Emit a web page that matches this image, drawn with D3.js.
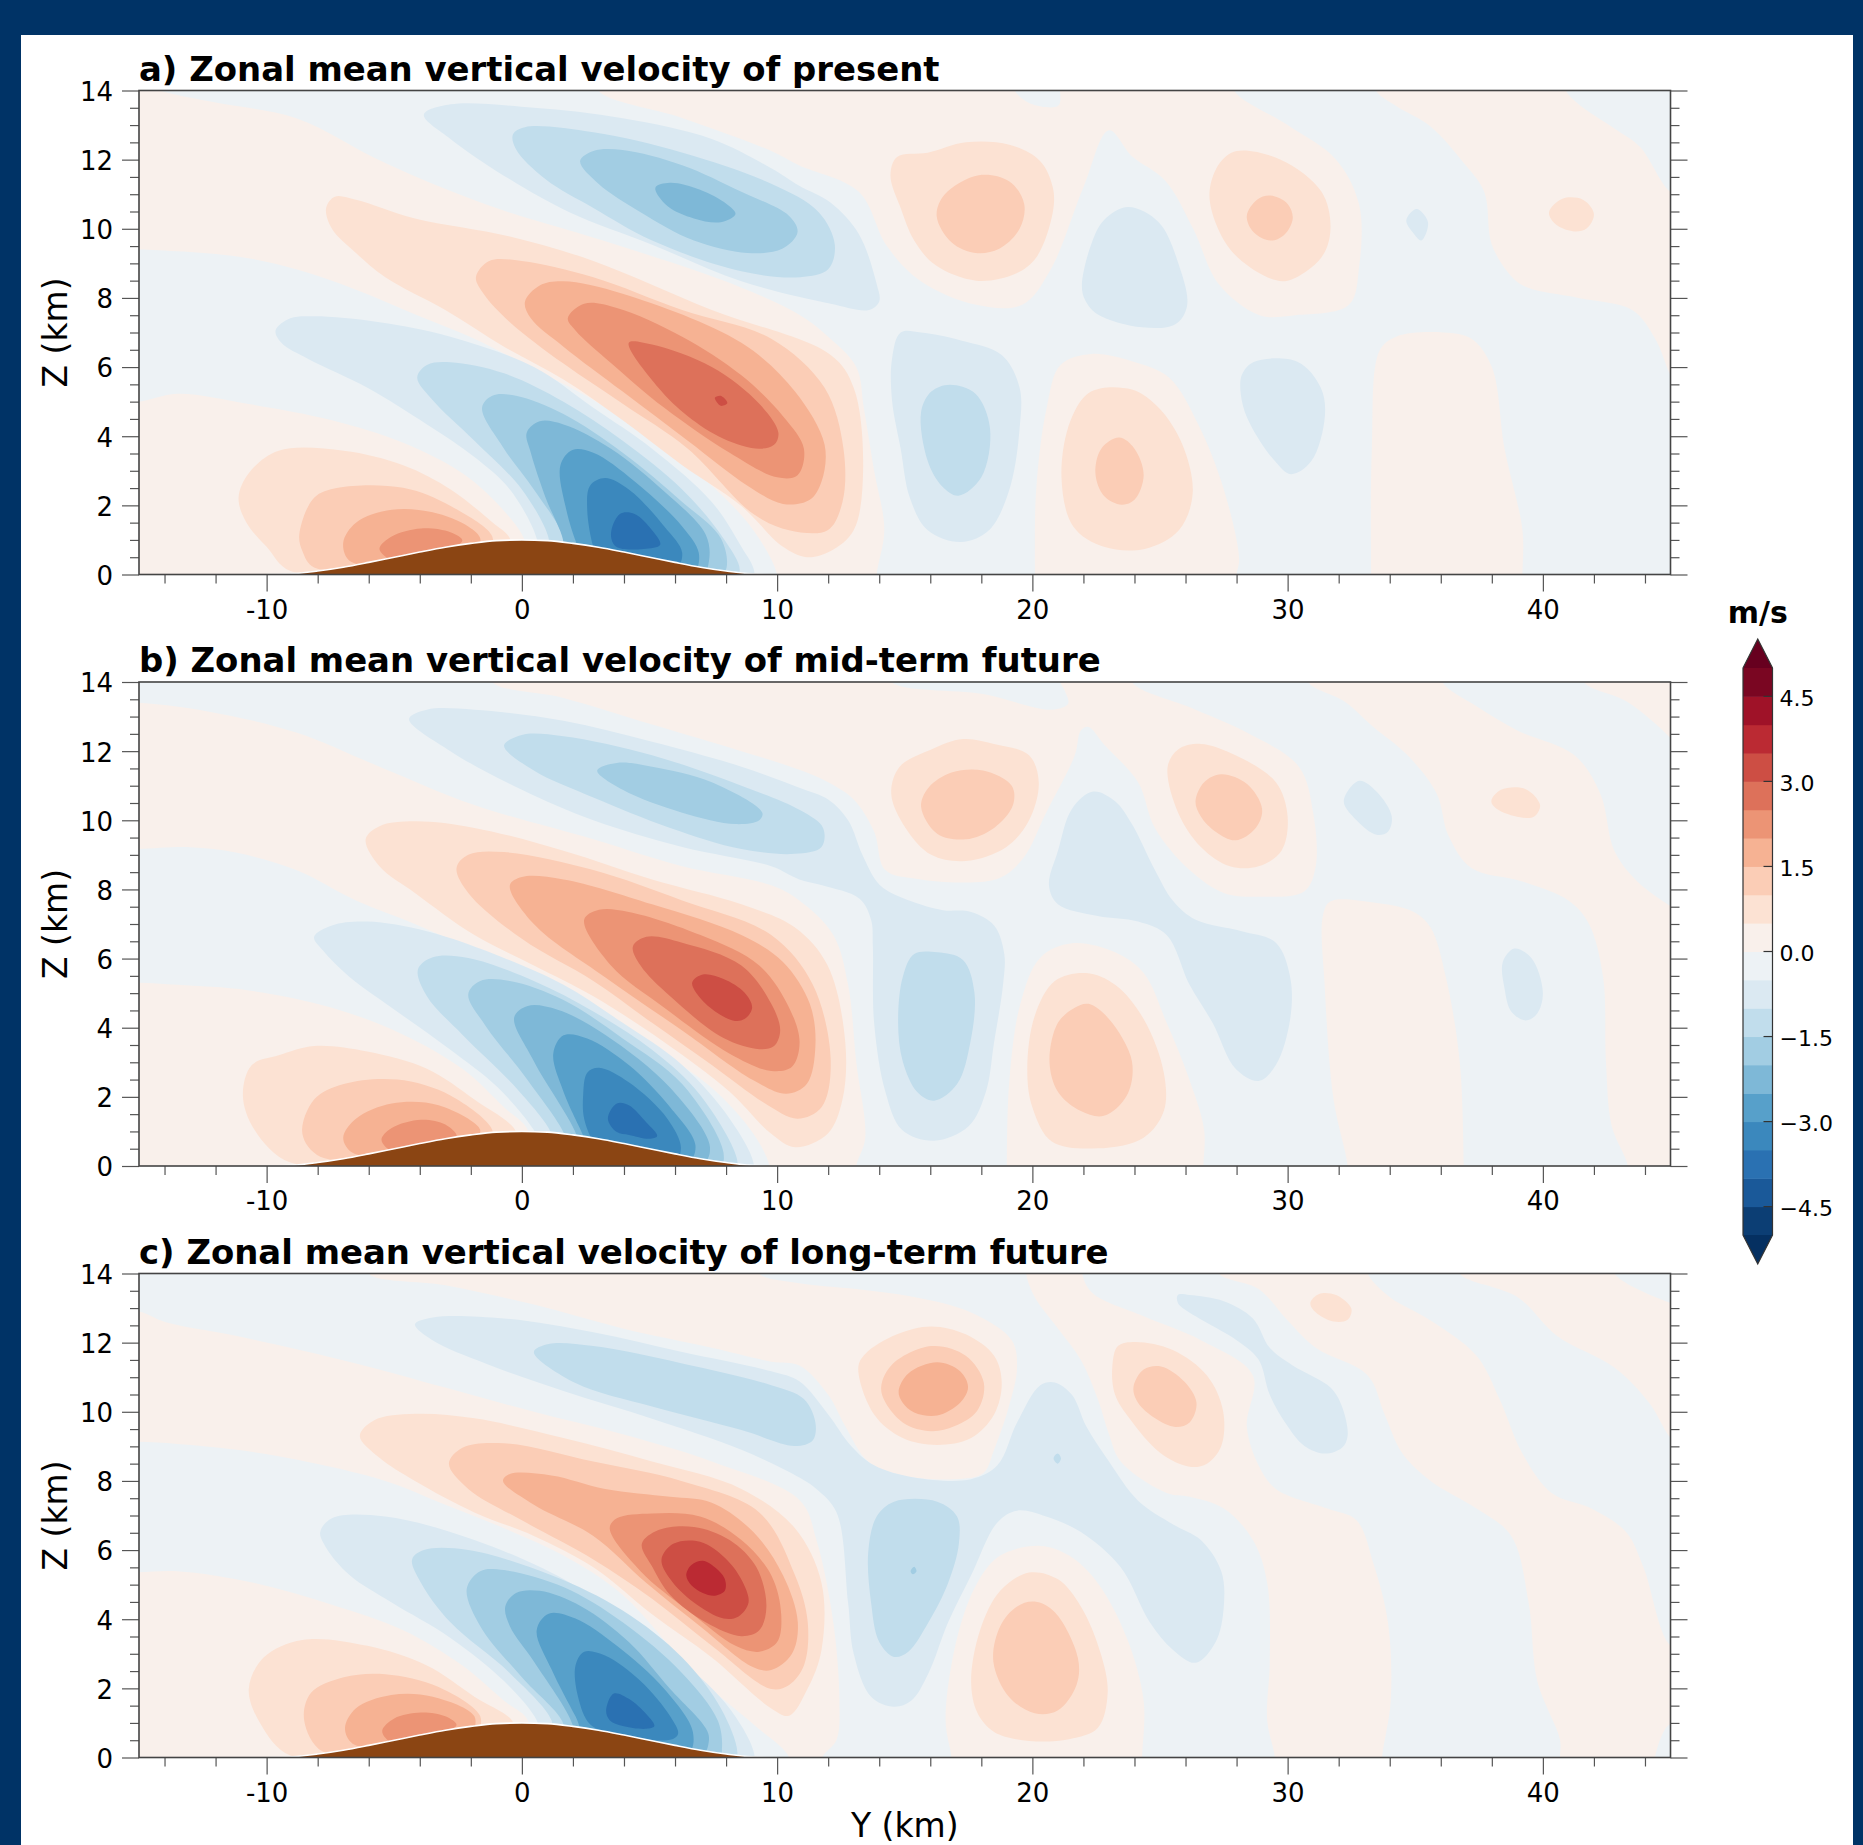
<!DOCTYPE html>
<html>
<head>
<meta charset="utf-8">
<script src="https://cdn.jsdelivr.net/npm/d3@7"></script>
<style>
body { margin: 0; background: #003366; }
text { font-family: "DejaVu Sans", sans-serif; fill: #000; }
</style>
</head>
<body>
<div id="chart"></div>
<script>
// contour levels of the shared colour bar (m/s)
const levels = [-5,-4.5,-4,-3.5,-3,-2.5,-2,-1.5,-1,-0.5,0,0.5,1,1.5,2,2.5,3,3.5,4,4.5,5];
const bandColors = ["#053061","#0c3e74","#1a5999","#2a71b2","#3b88bd","#57a0ca","#7eb8d7","#a2cde3","#c1ddec","#dbe9f2","#edf2f5",
                    "#f9f0eb","#fce2d3","#fbcdb6","#f6b293","#ec9475","#dd715a","#cd4e44","#bb2a33","#9f1228","#7a0622","#67001f"];
const colorbarTicks = [-4.5,-3,-1.5,0,1.5,3,4.5];
const yMajorTicks = [-10,0,10,20,30,40];
const yMinorTicks = [-14,-12,-8,-6,-4,-2,2,4,6,8,12,14,16,18,22,24,26,28,32,34,36,38,42,44];
const zMajorTicks = [0,2,4,6,8,10,12,14];
const zMinorTicks = [0.5,1,1.5,2.5,3,3.5,4.5,5,5.5,6.5,7,7.5,8.5,9,9.5,10.5,11,11.5,12.5,13,13.5];

// terrain height read along Y (km)
const terrainY = [-10,-9,-8,-7,-6,-5,-4,-3,-2,-1,0,1,2,3,4,5,6,7,8,9,10];
const terrainZ = [0,0.02,0.1,0.21,0.35,0.5,0.65,0.79,0.9,0.98,1,0.98,0.9,0.79,0.65,0.5,0.35,0.21,0.1,0.02,0];

// filled contours: [band mid value, [[Y km, Z km], ...]], painted in order
const panelA = [
  [0.25,[[-16,14.5],[-14.2,14],[-12,13.65],[-8.84,13.2],[-5.35,11.9],[-1.4,10.7],[3.7,9.54],[8.4,8.36],[10.9,7.5],[11.9,6.94],[13.1,6],[13.4,4.8],[13.8,3],[14.2,1.3],[13.9,0],[13.9,-0.6],[10,-0.6],[10,0],[9.07,1.28],[7.44,2.57],[5.1,3.87],[2.8,5.05],[0.47,5.94],[-1.86,6.82],[-4.2,7.53],[-6.5,8.24],[-8.84,8.83],[-11.16,9.2],[-15,9.4],[-16,9.4]]],
  [0.25,[[-16,5],[-15,5],[-13.5,5.23],[-10.7,4.93],[-7.44,4.46],[-4.65,3.81],[-2.33,2.93],[-0.9,2],[0.1,1],[0.1,0.3],[-5,-0.6],[-16,-0.6]]],
  [0.25,[[20.1,-0.6],[20.1,0],[20.15,2.46],[20.56,4.82],[21.1,6.06],[22.3,6.38],[23.9,6.17],[25.35,5.7],[26.5,4.34],[27.5,2.46],[28.1,0.45],[28,0],[28,-0.6]]],
  [0.25,[[33.27,-0.6],[33.27,0],[33.3,3.64],[33.6,6.47],[34.25,6.88],[36.1,7],[37.2,6.82],[38,6],[38.5,3.64],[39.2,1.28],[39.2,0],[39.2,-0.6]]],
  [0.25,[[33.4,14.5],[33.46,14],[34.25,13.55],[35.6,12.96],[36.9,11.9],[37.7,11.07],[38,9.54],[38.8,8.6],[39.4,8.3],[41.4,8],[43.5,7.65],[44.4,6.82],[45,5.76],[45.6,5],[45.6,11],[45,11.07],[43.8,12.37],[42.8,12.9],[41.4,13.6],[40.9,14],[40.8,14.5]]],
  [0.25,[[3,14.5],[3,14],[6.3,13.2],[9.77,12.25],[10.85,11.84],[13.2,11.07],[14.3,9.5],[15.6,8.5],[17.8,7.8],[19.6,7.8],[20.7,8.8],[22,11.2],[23,12.85],[23.9,12.1],[25.2,11.4],[26.3,10],[27.3,8.4],[28.9,7.5],[30.3,7.5],[32.4,7.8],[32.8,8.9],[32.8,10.7],[31.9,12],[30,13],[27.9,14],[27.9,14.5]]],
  [-0.25,[[19.2,14.5],[19.3,14],[20,13.6],[21,13.55],[21.1,13.8],[20.8,14.5]]],
  [-0.75,[[-3.84,13.3],[-2.8,13.6],[0.47,13.5],[3.95,13.2],[7.44,12.6],[9.77,11.75],[10.85,11.25],[12.1,10.75],[13.2,9.85],[13.9,8.4],[14,7.9],[13.6,7.65],[12.1,7.83],[8.6,8.48],[5.1,9.54],[1.86,10.48],[-0.47,11.43],[-2.8,12.6]]],
  [-0.75,[[-9.65,7.06],[-9.07,7.41],[-8.14,7.47],[-5.58,7.3],[-2.8,6.88],[0.47,6],[2.8,4.82],[5.1,3.64],[7.44,2.1],[8.6,0.8],[9.1,0.1],[9,-0.3],[0.6,0.5],[0.58,1.04],[-0.47,2.46],[-1.86,3.4],[-3.72,4.34],[-6.05,5.4],[-8.37,6.23],[-9.42,6.7]]],
  [-0.75,[[14.5,6.23],[14.84,7],[15.64,7],[17.2,6.77],[18.8,6.35],[19.5,5.4],[19.5,4.23],[19.1,2.46],[18.3,1.28],[17.2,0.94],[15.9,1.28],[15.2,2.22],[14.84,3.64],[14.5,5.05]]],
  [-0.75,[[21.94,8.36],[22.3,9.54],[22.8,10.25],[23.75,10.63],[24.95,10.19],[25.74,8.95],[26.06,7.77],[25.6,7.24],[24.3,7.15],[22.55,7.53],[22.06,7.95]]],
  [-0.75,[[28.2,5.76],[28.67,6.15],[30.4,6.15],[31.3,5.4],[31.46,4.58],[30.93,3.28],[30.13,2.9],[29.5,3.28],[28.54,4.34],[28.2,5.05]]],
  [-0.75,[[34.65,10.25],[35.05,10.57],[35.5,10.19],[35.24,9.66],[34.9,9.9]]],
  [-1.25,[[-0.35,12.73],[0.12,12.94],[2.8,12.79],[6.3,12.2],[9.77,11.3],[11.63,10.48],[12.26,9.54],[12,8.83],[10.9,8.6],[8.6,8.77],[5.1,9.66],[2.8,10.6],[0.93,11.43],[-0.23,12.3]]],
  [-1.25,[[-4.1,5.7],[-3.72,6.06],[-2.8,6.14],[-0.7,5.82],[1.63,5],[3.95,3.87],[6.28,2.46],[7.9,1.04],[8.53,0.1],[8,-0.3],[1,0.6],[1.05,1.04],[0,2.46],[-1.86,3.87],[-3.5,5.05]]],
  [-1.25,[[15.64,4.7],[16.04,5.29],[16.76,5.49],[17.77,5.23],[18.34,4.23],[18,2.81],[17.1,2.28],[16.44,2.57],[15.9,3.28]]],
  [-1.75,[[2.28,11.96],[2.8,12.25],[3.95,12.28],[6.28,11.84],[8.6,11.07],[10.47,10.37],[10.8,9.9],[10.2,9.42],[8.84,9.3],[6.74,9.66],[4.65,10.48],[3,11.3]]],
  [-1.75,[[-1.56,4.82],[-1.16,5.17],[-0.23,5.17],[1.63,4.64],[3.95,3.52],[6.28,2.1],[7.8,1.04],[8,0.15],[7.5,-0.2],[1.5,0.4],[1.63,1.04],[0.47,2.46],[-0.7,3.64]]],
  [-2.25,[[5.23,11.19],[5.8,11.33],[6.98,11.13],[8.02,10.72],[8.37,10.43],[7.79,10.19],[6.74,10.3],[5.7,10.66]]],
  [-2.25,[[0.19,4.1],[0.7,4.43],[1.63,4.34],[3.49,3.64],[5.58,2.4],[7.2,1.16],[7.33,0.39],[7,-0.1],[1.5,0.5],[1.63,0.92],[0.93,2.22],[0.35,3.52]]],
  [-2.75,[[1.51,3.16],[1.98,3.6],[2.8,3.52],[4.42,2.69],[6.28,1.39],[6.93,0.63],[6.8,0.1],[6.4,0.05],[2.5,0.4],[2.2,0.8],[1.74,1.87]]],
  [-3.25,[[2.56,1.87],[2.67,2.57],[3.26,2.79],[4.19,2.46],[5.58,1.39],[6.28,0.63],[6,0.15],[3,0.5],[2.8,0.8]]],
  [-3.75,[[3.49,1.16],[3.84,1.75],[4.42,1.75],[5.1,1.28],[5.42,0.86],[4.77,0.74],[3.7,0.8]]],
  [0.75,[[-11.1,2.22],[-10.7,2.93],[-9.53,3.58],[-6.98,3.58],[-4.65,3.16],[-2.79,2.46],[-1.16,1.51],[-0.47,1.04],[-0.5,0.5],[-5,0.3],[-9.07,0.1],[-10,0.8],[-10.8,1.51]]],
  [0.75,[[-7.67,10.6],[-7.33,10.93],[-6.5,10.84],[-4.19,10.3],[-0.47,9.78],[2.8,9.07],[7.44,7.65],[12.1,6.35],[13,5.4],[13.37,3.05],[13,1.28],[12.1,0.68],[11.16,0.5],[10.23,0.8],[8.6,1.98],[6.28,3.16],[3.95,4.46],[1.63,5.64],[-0.7,6.59],[-3,7.65],[-5.35,8.6],[-6.5,9.3],[-7.44,10]]],
  [0.75,[[14.44,11.55],[14.7,12.08],[15.9,12.2],[17.4,12.5],[19.1,12.43],[20.3,11.96],[20.8,11.2],[20.8,10.48],[20.16,9.18],[19.36,8.71],[17.8,8.5],[16.2,8.95],[15.37,9.66],[14.84,10.6]]],
  [0.75,[[26.94,11.07],[27.34,11.9],[28,12.25],[29.73,12],[31.33,11.07],[31.68,10],[31.33,9.18],[30,8.5],[29.2,8.6],[27.87,9.3],[27.2,10.13]]],
  [0.75,[[40.24,10.48],[40.77,10.87],[41.57,10.84],[42,10.43],[41.7,10],[41.17,9.93],[40.5,10.13]]],
  [0.75,[[21.14,2.81],[21.5,4.46],[22.3,5.29],[23.9,5.35],[24.95,4.82],[25.88,3.75],[26.28,2.34],[25.74,1.28],[24.4,0.74],[22.8,0.8],[21.6,1.39]]],
  [1.25,[[-8.72,1.16],[-8.14,2.22],[-7.2,2.51],[-4.65,2.51],[-2.79,1.98],[-1.16,1.1],[-1.3,0.7],[-5,0.3],[-8.14,0.2],[-8.6,0.68]]],
  [1.25,[[-1.8,8.6],[-1.28,9.07],[0,9.07],[2.8,8.6],[6.28,7.65],[9.77,6.82],[11.86,5.4],[12.6,3.64],[12.56,2.1],[11.98,1.28],[10.47,1.28],[9.07,1.75],[6.5,3.64],[3.95,4.94],[1.63,6.1],[-0.47,7.3],[-1.5,8.12]]],
  [1.25,[[16.25,10.37],[16.57,11],[17.9,11.55],[19.1,11.37],[19.68,10.72],[19.5,10],[18.7,9.42],[17.77,9.3],[16.84,9.6]]],
  [1.25,[[28.4,10.37],[28.8,10.84],[29.33,10.96],[30,10.72],[30.2,10.3],[29.87,9.83],[29.33,9.66],[28.67,9.9]]],
  [1.25,[[22.47,2.93],[22.7,3.64],[23.4,3.96],[24,3.64],[24.36,2.87],[24,2.16],[23.5,2.02],[22.8,2.28]]],
  [1.75,[[-7,0.92],[-6.5,1.5],[-5.1,1.87],[-3.5,1.8],[-2.1,1.39],[-1.63,1.04],[-1.8,0.7],[-5,0.3],[-6.74,0.39]]],
  [1.75,[[0.12,7.89],[0.7,8.36],[1.63,8.48],[3.95,8.12],[8.6,6.7],[10.7,5.29],[11.86,3.75],[11.74,2.69],[11.28,2.16],[10.23,2.04],[8.84,2.57],[6.5,3.87],[3.95,5.29],[1.63,6.59],[0.35,7.41]]],
  [2.25,[[-5.58,0.74],[-5.1,1.1],[-3.95,1.33],[-2.8,1.22],[-2.33,0.98],[-3,0.7],[-5,0.4]]],
  [2.25,[[1.8,7.41],[2.44,7.83],[3.72,7.71],[6.28,6.88],[8.6,5.76],[10.23,4.58],[11.05,3.64],[10.8,2.87],[10,2.81],[8.14,3.52],[5.58,4.82],[3.49,6.12],[2.1,7.06]]],
  [2.75,[[4.19,6.7],[5.1,6.65],[7.44,6],[9.3,4.94],[10.05,4.1],[9.88,3.75],[9.3,3.64],[7.9,3.93],[6.5,4.58],[5.35,5.4]]],
  [3.25,[[7.56,5.11],[7.79,5.17],[8.05,4.96],[7.79,4.88]]]
];

const panelB = [
  [0.25,[[-16,13.4],[-15,13.4],[-12.3,13.15],[-8.84,12.54],[-5.58,11.55],[-1.86,10.44],[2.8,9.45],[6.28,8.67],[9.77,8.12],[10.87,7.68],[12.2,6.68],[12.78,5.24],[13.1,3],[13.45,0.8],[13.1,0],[13.1,-0.6],[9.7,-0.6],[9.7,0],[9.07,0.93],[7.44,2.26],[5.1,3.47],[2.8,4.58],[0.47,5.46],[-1.86,6.24],[-4.19,7],[-6.5,7.68],[-8.84,8.56],[-11.16,9.06],[-13,9.22],[-15,9.17],[-16,9.17]]],
  [0.25,[[-16,5.3],[-15,5.3],[-13.5,5.24],[-10.7,5.08],[-7.44,4.58],[-4.65,3.8],[-2.33,2.81],[-0.7,1.7],[0.23,1.04],[0.2,0.3],[-5,-0.6],[-16,-0.6]]],
  [0.25,[[-1.16,14.5],[-1.16,14],[1.63,13.54],[5.1,12.77],[8.6,12],[10.87,11.46],[12,11.1],[13,10.6],[13.8,9.67],[14.24,8.56],[15.5,8.3],[17.4,8.2],[18.74,8.34],[19.64,8.9],[20.54,10.22],[21.66,11.88],[21.9,12.6],[22.2,12.7],[22.8,12.2],[24.14,11.1],[24.8,9.78],[26.16,8.56],[27.5,7.9],[28.86,7.79],[30.66,7.95],[31.1,8.67],[31,10.22],[30.44,11.55],[28.4,12.54],[26.4,13.2],[23.9,14],[23.9,14.5]]],
  [-0.25,[[14.3,14.5],[14.47,14],[18.07,13.65],[20.76,13.2],[21.4,13.37],[21.26,13.76],[21.1,14],[21.1,14.5]]],
  [0.25,[[19,-0.6],[19,0],[19.1,2.48],[19.53,4.69],[20.3,6.02],[21.55,6.44],[23.24,6.18],[24.36,5.58],[25.26,4.14],[26.16,2.48],[26.73,1.04],[26.7,0],[26.7,-0.6]]],
  [0.25,[[32.35,-0.6],[32.35,0],[31.8,1.92],[31.45,5.24],[31.38,7.23],[31.67,7.65],[33.36,7.62],[34.94,7.35],[35.6,6.9],[36.2,5.46],[36.74,3.03],[36.9,0],[36.9,-0.6]]],
  [0.25,[[30.7,14.6],[30.8,14],[32.24,13.43],[33.36,12.7],[34.7,11.88],[35.84,10.77],[36.3,9.56],[37.2,8.62],[39.2,8.23],[41,7.68],[41.8,7.01],[42.36,5.46],[42.47,3.03],[42.7,1.15],[43.33,0],[43.3,-0.6],[46,-0.6],[46,7],[45,7.51],[43.7,8.23],[42.8,9.12],[42.25,10.77],[41.24,11.88],[39,12.6],[37.4,13.3],[36.06,14],[36,14.6]]],
  [0.25,[[41.5,14.6],[41.6,14],[43.3,13.43],[45,12.38],[46,11.5],[46,14.6]]],
  [-0.75,[[-4.42,12.93],[-3.72,13.2],[-1.86,13.2],[1.63,12.88],[5.1,12.27],[8.6,11.55],[10.87,10.94],[12,10.6],[12.78,10],[13.34,9],[13.9,8.23],[14.35,7.95],[15.6,7.57],[16.5,7.4],[17.6,7.35],[18.5,6.96],[18.9,6.13],[18.85,5.24],[18.5,3.58],[18.18,2.15],[17.5,1.15],[16.15,0.73],[14.9,1.04],[14.24,2.15],[13.8,4.14],[13.75,6.35],[13.68,7.12],[13.23,7.73],[11.76,8.12],[10.87,8.29],[9.77,8.67],[6.28,9.23],[2.8,10],[0,10.88],[-2.8,12]]],
  [-0.75,[[-8.14,6.63],[-7.44,6.96],[-6.05,7.07],[-3.72,6.79],[-0.7,6.02],[1.63,5.24],[3.95,4.14],[6.28,2.92],[8.14,1.37],[9.07,0.1],[9,-0.3],[0.8,0.5],[0.47,1.04],[-0.93,2.26],[-2.8,3.36],[-5.1,4.58],[-6.74,5.46],[-7.8,6.24]]],
  [-0.75,[[20.65,8.12],[21,9.11],[21.55,10.33],[22.38,10.83],[23.24,10.55],[23.9,9.89],[24.8,8.56],[25.5,7.68],[26.4,7.12],[28.2,6.79],[29.54,6.46],[30.1,5.46],[30.1,4.25],[29.54,2.92],[28.86,2.46],[27.96,2.81],[27.06,4.14],[26.16,5.24],[25.26,6.68],[24.14,7.07],[22.56,7.23],[21,7.57]]],
  [-0.75,[[32.2,10.55],[32.8,11.14],[33.48,10.83],[34.08,10.11],[33.93,9.67],[33.48,9.58],[32.7,10]]],
  [-0.75,[[38.43,5.9],[38.88,6.29],[39.55,6.02],[40,5.02],[39.78,4.41],[39.33,4.21],[38.76,4.47],[38.5,5.13]]],
  [-1.25,[[-0.7,12.16],[0,12.47],[1.63,12.43],[5.1,11.88],[8.6,11],[10.93,10.28],[11.8,9.78],[11.74,9.23],[10.7,9.03],[8.6,9.17],[5.81,9.78],[2.8,10.66],[0.47,11.44]]],
  [-1.25,[[-4.07,5.69],[-3.49,6.04],[-2.1,6.02],[0.47,5.35],[2.8,4.47],[5.1,3.36],[7,2.04],[8.44,0.15],[8.3,-0.2],[1.2,0.5],[1.16,0.93],[-0.23,2.26],[-2.33,3.8],[-3.72,4.91]]],
  [-1.25,[[14.74,4.14],[14.92,5.46],[15.37,6.13],[16.27,6.18],[17.28,5.96],[17.73,5.02],[17.57,3.58],[17.05,2.37],[16.15,1.89],[15.48,2.15],[14.92,3.03]]],
  [-1.75,[[2.95,11.44],[3.72,11.66],[5.1,11.55],[7.44,11.1],[9.42,10.22],[9.3,10],[8.37,9.89],[6.28,10.22],[3.95,10.88]]],
  [-1.75,[[-2.1,4.97],[-1.63,5.35],[-0.47,5.35],[1.63,4.8],[3.95,3.69],[6.28,2.37],[7.9,0.38],[7.7,-0.1],[1.5,0.4],[1.74,0.71],[0.23,2.48],[-1.4,4.03]]],
  [-2.25,[[-0.3,4.3],[0.23,4.63],[1.4,4.52],[3.26,3.8],[5.81,2.26],[7.37,0.54],[7,0],[2,0.5],[2.2,0.71],[0.47,3.03]]],
  [-2.75,[[1.23,3.25],[1.63,3.78],[2.56,3.69],[4.19,2.92],[5.81,1.7],[6.8,0.6],[6.5,0.1],[2.6,0.5],[2.44,0.82],[1.63,2.15]]],
  [-3.25,[[2.4,2.04],[2.56,2.7],[3.02,2.84],[4.19,2.42],[5.7,1.37],[6.23,0.54],[6,0.15],[3,0.6],[2.8,0.71],[2.44,1.37]]],
  [-3.75,[[3.37,1.37],[3.72,1.81],[4.19,1.76],[4.88,1.26],[5.3,0.87],[5,0.79],[4.2,0.9],[3.72,0.98]]],
  [0.75,[[-10.93,2.04],[-10.58,2.92],[-9.53,3.2],[-8.14,3.47],[-6.05,3.31],[-3.72,2.81],[-1.86,1.92],[-0.23,0.98],[-0.5,0.5],[-5,0.3],[-9.07,0.1],[-10.47,1.04]]],
  [0.75,[[-6.12,9.45],[-5.58,9.83],[-4.19,9.97],[-1.86,9.78],[1.63,9.12],[5.1,8.29],[8.6,7.57],[10.7,6.9],[11.98,5.8],[12.67,3.58],[12.56,1.92],[11.98,0.93],[10.7,0.54],[9.77,0.93],[8.14,2.15],[5.58,3.58],[2.8,4.91],[0.47,5.8],[-1.86,6.68],[-4.19,7.9],[-5.58,8.67]]],
  [0.75,[[14.47,10.77],[14.8,11.55],[16.04,12.05],[17.28,12.35],[18.5,12.21],[19.87,11.88],[20.25,11.1],[19.87,10],[18.97,9.22],[17.39,8.82],[16.04,9],[15.03,9.78]]],
  [0.75,[[25.3,11.55],[25.71,12.05],[26.6,12.21],[27.96,11.88],[29.54,11.1],[30,10.11],[29.76,9.12],[28.86,8.67],[27.74,8.67],[26.6,9.23],[25.71,10.22]]],
  [0.75,[[37.98,10.55],[38.36,10.88],[39.33,10.9],[39.89,10.44],[39.66,10.11],[39.1,10.09],[38.2,10.33]]],
  [0.75,[[19.8,2.81],[20.1,4.36],[20.88,5.35],[22.11,5.58],[23.24,5.24],[24.36,4.25],[25.15,2.7],[25.15,1.59],[24.36,0.82],[22.56,0.51],[20.76,0.71],[20,1.7]]],
  [1.25,[[-8.6,0.93],[-8.14,1.92],[-6.98,2.37],[-4.88,2.5],[-2.8,2.04],[-1.16,1.04],[-1.3,0.7],[-5,0.3],[-7.9,0.27]]],
  [1.25,[[-2.56,8.62],[-2.1,9],[-0.7,9.08],[2.8,8.56],[6.28,7.68],[9.77,6.68],[11.4,5.24],[12.1,3.03],[11.74,1.7],[10.8,1.37],[9.53,1.81],[7.44,2.92],[5.1,4.14],[2.8,5.35],[0,6.57],[-2.1,7.9]]],
  [1.25,[[15.64,10.39],[15.93,10.94],[16.83,11.38],[18.07,11.44],[19.19,11],[19.24,10.44],[18.5,9.78],[17.39,9.45],[16.27,9.61]]],
  [1.25,[[26.39,10.55],[26.73,11.1],[27.4,11.33],[28.41,11.05],[29,10.33],[28.75,9.78],[27.96,9.42],[27.18,9.67],[26.6,10.11]]],
  [1.25,[[20.67,3.03],[21,4.14],[21.66,4.58],[22.2,4.69],[23,4.25],[23.9,3.03],[23.7,2.04],[22.8,1.45],[21.9,1.59],[21,2.15]]],
  [1.75,[[-7,0.82],[-6.5,1.37],[-5.1,1.81],[-3.26,1.76],[-1.63,1.04],[-2,0.7],[-5,0.3],[-6.63,0.38]]],
  [1.75,[[-0.47,8.12],[0,8.36],[1.63,8.29],[5.1,7.57],[8.6,6.68],[10.23,5.9],[11.28,4.69],[11.5,3.47],[11.16,2.37],[10.35,2.09],[9.07,2.48],[6.28,3.92],[3.26,5.46],[0.47,7]]],
  [2.25,[[-5.5,0.76],[-5.1,1.1],[-3.95,1.34],[-3,1.2],[-2.56,0.87],[-3.2,0.7],[-5,0.4]]],
  [2.25,[[2.44,7.12],[3.02,7.41],[4.19,7.35],[7,6.68],[9.3,5.8],[10.47,4.58],[10.88,3.58],[10.58,2.87],[9.77,2.75],[8.14,3.25],[5.58,4.58],[3.49,5.8]]],
  [2.75,[[4.35,6.35],[4.88,6.63],[6.28,6.46],[8.6,5.8],[9.77,4.69],[10.12,3.92],[9.88,3.47],[9.3,3.38],[7.9,3.7],[5.81,4.91],[4.65,5.8]]],
  [3.25,[[6.67,5.3],[7.09,5.54],[7.9,5.41],[8.72,5.02],[9.02,4.58],[8.72,4.25],[8.26,4.21],[7.2,4.69]]]
];

const panelC = [
  [0.25,[[-16,12.9],[-15,12.9],[-13.95,12.59],[-11.16,12.19],[-6.5,11.4],[-3,10.7],[0.47,10],[3.95,9.35],[7.44,8.56],[10.9,7.43],[11.54,6.29],[12.2,3.91],[12.44,1.64],[12.33,0.51],[11.77,0],[11.7,-0.6],[10.4,-0.6],[10.47,0],[9.07,0.96],[6.74,2.44],[3.95,4.7],[1.63,5.84],[-0.7,6.63],[-3,7.31],[-5.35,8],[-8.84,8.62],[-11.16,8.9],[-13.5,9.07],[-15,9.13],[-16,9.13]]],
  [0.25,[[-16,5.36],[-15,5.36],[-13.5,5.39],[-10.47,5.05],[-7.44,4.42],[-4.65,3.68],[-2.33,2.66],[-0.7,1.64],[0.23,1.08],[0.2,0.3],[-5,-0.6],[-16,-0.6]]],
  [0.25,[[-6,14.5],[-6,14],[-3,13.66],[0.47,13.1],[3.95,12.41],[7.44,11.85],[9.77,11.45],[10.87,11.34],[12,10.49],[12.67,9.58],[13.57,8.56],[14.92,8.16],[16.94,8.05],[18.07,8.22],[18.5,8.9],[19.08,10.15],[19.4,11.28],[19.19,12.07],[17.6,12.87],[15.37,13.32],[13.1,13.55],[10.87,13.72],[9.3,14],[9.3,14.5]]],
  [0.25,[[19.75,14.5],[19.75,14],[20.09,13.32],[21,12.41],[21.9,11.5],[22.56,10.37],[23,9.35],[23.46,8.56],[25.26,7.65],[26.16,7.54],[27.5,7.2],[28.64,6.29],[29.2,5.05],[29.3,2.78],[29.2,1.08],[29.5,0],[29.5,-0.6],[33.7,-0.6],[33.7,0],[34.04,1.64],[33.93,3.91],[33.36,5.61],[32.7,6.86],[31.56,7.2],[29.54,7.77],[28.86,8.45],[28.4,9.58],[28.64,11.05],[26.6,12.07],[24.36,12.76],[22.34,13.44],[21.95,14],[21.95,14.5]]],
  [0.25,[[27.2,14.5],[27.3,14],[28.86,13.55],[30,12.64],[31.1,11.85],[33.14,11.05],[33.8,9.92],[34.5,8.79],[35.6,8],[37.4,7.2],[38.76,6.41],[39.44,4.48],[39.78,2.21],[40.67,0.51],[40.67,0],[40.67,-0.6],[44.39,-0.6],[44.39,0],[45,0.96],[46,0.5],[46,3],[45,3.23],[43.94,5.5],[43.26,6.52],[41.9,7.2],[40.34,7.65],[39.2,8.79],[38.3,10.37],[37.4,11.62],[35.6,12.64],[34,13.32],[33.14,14],[33.1,14.5]]],
  [0.25,[[36.7,14.5],[36.74,14],[39,13.32],[40.56,12.19],[42.8,11.28],[44.16,10.26],[45,9.24],[46,8.5],[46,13],[45,13.15],[42.8,14],[42.7,14.5]]],
  [0.25,[[16.83,-0.6],[16.83,0],[16.6,1.08],[17.05,3.46],[17.84,5.05],[18.74,5.84],[20.31,6.12],[21.44,5.84],[22.56,5.05],[23.7,3.46],[24.36,1.64],[24.3,0],[24.3,-0.6]]],
  [-0.75,[[-4.19,12.53],[-3.49,12.73],[-0.7,12.7],[2.8,12.3],[6.28,11.73],[9.77,11.17],[10.87,10.88],[12,9.92],[12.9,9.01],[13.8,8.45],[15.37,8.1],[17.6,8.05],[18.63,8.45],[19.4,9.69],[20.31,10.77],[20.88,10.85],[21.55,10.49],[22.11,9.58],[23,8.56],[24.14,7.43],[25.5,6.75],[26.6,6.29],[27.4,5.39],[27.5,4.37],[27.18,3.34],[26.4,2.74],[25.5,3.12],[24.6,3.91],[23.46,5.5],[21.9,6.52],[20.54,6.97],[19.4,7.14],[18.63,6.8],[17.6,5.27],[16.7,3.91],[15.93,2.44],[15.25,1.64],[14.58,1.47],[13.68,1.76],[13,3],[12.78,4.48],[12.33,7.09],[11.54,7.77],[10.87,8.1],[8.6,8.9],[5.1,9.8],[1.63,10.6],[-1.4,11.39],[-3.5,12.07]]],
  [-0.75,[[-7.9,6.52],[-7.44,6.92],[-5.35,6.97],[-1.86,6.29],[1.63,5.16],[3.95,4.02],[6.28,2.78],[8.14,1.42],[9.1,0.11],[9,-0.3],[0.8,0.5],[0.58,1.08],[-0.7,2.21],[-2.8,3.46],[-5.1,4.48],[-6.74,5.27],[-7.67,6.07]]],
  [-0.75,[[25.7,13.38],[26.16,13.38],[27.5,13.2],[28.64,12.7],[29.3,11.85],[30.2,11.34],[31.68,10.7],[32.13,10.15],[32.35,9.3],[32.13,8.96],[31.45,8.79],[30.66,9.01],[30,9.58],[29.3,10.49],[28.86,11.51],[28,12.07],[26.4,12.76],[25.7,13.15]]],
  [-1.25,[[0.47,11.73],[1.05,11.96],[2.8,11.9],[6.28,11.4],[9.77,10.77],[11.05,10.37],[11.5,9.69],[11.4,9.18],[10.7,9.01],[8.6,9.47],[5.1,10.15],[2.1,10.83]]],
  [-1.25,[[-4.3,5.73],[-3.84,6],[-2.1,6],[1.16,5.27],[3.95,4.25],[6.28,2.89],[7.8,1.42],[8.44,0.17],[8.3,-0.2],[1.2,0.5],[1.16,1.08],[-0.47,2.44],[-2.8,3.91],[-3.95,5.05]]],
  [-1.25,[[13.57,5.95],[13.9,6.97],[14.58,7.4],[16.27,7.4],[17.05,6.97],[17.12,6.18],[16.7,5.05],[15.93,3.91],[15.14,3.06],[14.58,2.91],[14,3.34],[13.68,4.48]]],
  [-1.25,[[20.99,8.79],[21.12,8.65],[20.99,8.5],[20.83,8.65]]],
  [-1.75,[[15.37,5.52],[15.46,5.39],[15.32,5.3],[15.23,5.39]]],
  [-1.75,[[-2.16,4.88],[-1.63,5.39],[-0.7,5.42],[1.63,4.93],[3.95,3.91],[6.28,2.44],[7.67,1.08],[7.84,0.28],[7.7,-0.1],[1.5,0.4],[1.63,0.96],[0,2.32],[-1.63,3.8]]],
  [-2.25,[[-0.65,4.37],[-0.23,4.76],[0.7,4.82],[2.33,4.37],[4.19,3.34],[5.81,1.98],[7.2,0.85],[7.33,0.51],[7,0],[2,0.5],[1.98,0.96],[0.47,2.78],[-0.47,3.8]]],
  [-2.75,[[0.58,3.68],[1.05,4.16],[2.1,4.02],[3.72,3.23],[5.58,1.98],[6.7,0.74],[6.5,0.1],[2.6,0.5],[2.1,1.19],[1.16,2.55]]],
  [-3.25,[[2.1,2.66],[2.44,3.06],[3.26,2.95],[4.65,2.21],[5.81,1.19],[6.12,0.68],[5.81,0.51],[3.5,0.7],[2.67,0.96],[2.2,1.76]]],
  [-3.75,[[3.3,1.36],[3.6,1.85],[4.19,1.7],[4.88,1.25],[5.19,0.91],[4.88,0.83],[3.95,0.91],[3.44,1.08]]],
  [0.75,[[-10.7,1.98],[-10.12,2.89],[-8.6,3.4],[-6.05,3.23],[-3.72,2.66],[-1.86,1.76],[-0.35,1.02],[-0.5,0.5],[-5,0.3],[-9.07,0.06],[-10.23,0.96]]],
  [0.75,[[-6.35,9.3],[-5.8,9.75],[-4.19,9.94],[-1.86,9.81],[1.63,9.24],[5.1,8.56],[8.6,7.77],[10.7,6.63],[11.74,5.05],[11.74,3.12],[11.2,2],[10.47,1.21],[9.77,1.42],[7.44,2.89],[5.1,4.14],[2.8,5.5],[0.47,6.41],[-1.86,7.09],[-4.19,8],[-5.58,8.67]]],
  [0.75,[[13.18,11.28],[13.46,11.68],[14.7,12.24],[16.04,12.47],[17.39,12.24],[18.5,11.62],[18.8,10.83],[18.5,9.92],[17.6,9.24],[16.27,9.04],[14.92,9.24],[13.8,9.92]]],
  [0.75,[[23.13,11.28],[23.35,11.9],[24.03,12.02],[25.5,11.79],[26.84,11.05],[27.47,10.03],[27.4,9.01],[26.84,8.5],[26.16,8.41],[25.04,8.79],[23.8,9.81],[23.24,10.49]]],
  [0.75,[[30.89,13.15],[31.23,13.41],[31.9,13.38],[32.5,12.98],[32.35,12.66],[31.8,12.61],[31.11,12.87]]],
  [0.75,[[17.6,2.21],[17.95,3.68],[18.74,4.82],[19.87,5.35],[20.99,5.16],[21.9,4.37],[22.68,3],[22.95,1.87],[22.56,0.85],[21.44,0.53],[19.87,0.48],[18.5,0.74],[17.84,1.3]]],
  [1.25,[[-8.53,1.08],[-8.26,1.87],[-6.98,2.32],[-5.35,2.41],[-3.26,2.04],[-1.63,1.19],[-1.8,0.7],[-5,0.3],[-7.8,0.17]]],
  [1.25,[[-2.86,8.5],[-2.33,8.96],[-0.7,9.09],[2.8,8.56],[6.28,7.99],[9.3,7.09],[10.7,5.27],[11.2,3.91],[11.05,2.66],[10.47,2.1],[9.77,1.98],[7.44,3.23],[5.1,4.59],[2.8,5.73],[0,6.86],[-2.1,7.77]]],
  [1.25,[[14.08,10.6],[14.47,11.34],[16.04,11.9],[17.39,11.62],[18.1,10.83],[17.84,10.03],[16.94,9.58],[16.04,9.44],[14.92,9.69]]],
  [1.25,[[23.96,10.71],[24.36,11.22],[25.04,11.31],[25.94,10.88],[26.43,10.26],[26.16,9.69],[25.6,9.56],[24.81,9.81],[24.14,10.26]]],
  [1.25,[[18.47,2.78],[18.74,3.8],[19.4,4.37],[20.09,4.51],[20.88,4.2],[21.78,2.89],[21.73,2.1],[20.99,1.36],[20.09,1.28],[19.08,1.76]]],
  [1.75,[[-6.93,0.85],[-6.51,1.42],[-5.12,1.81],[-3.49,1.76],[-1.86,1.19],[-2,0.7],[-5,0.3],[-6.63,0.4]]],
  [1.75,[[-0.74,8],[-0.47,8.2],[1.16,8.16],[3.26,7.77],[5.81,7.54],[7.44,7.37],[9.07,6.52],[10.23,5.27],[10.81,3.91],[10.58,3],[9.77,2.53],[9.07,2.61],[6.98,3.8],[4.88,5.05],[2.8,6.41],[0.47,7.31]]],
  [1.75,[[14.76,10.6],[15.14,11.11],[16.27,11.43],[17.17,11.17],[17.48,10.71],[17.17,10.26],[16.27,9.89],[15.37,9.98],[14.92,10.26]]],
  [2.25,[[-5.47,0.79],[-5,1.13],[-3.95,1.3],[-3,1.19],[-2.56,0.94],[-3.2,0.7],[-5,0.4],[-5.35,0.57]]],
  [2.25,[[3.44,6.63],[3.72,6.92],[5.1,7.06],[6.98,6.97],[8.6,6.29],[9.77,5.27],[10.16,4.14],[10,3.34],[9.3,3.06],[8.37,3.23],[6.51,4.25],[4.65,5.39]]],
  [2.75,[[4.7,6.18],[5.35,6.58],[6.74,6.67],[8.14,6.29],[9.19,5.5],[9.58,4.37],[9.3,3.68],[8.6,3.51],[7.2,3.91],[5.81,4.7],[5.12,5.5]]],
  [3.25,[[5.47,5.73],[5.93,6.18],[6.98,6.24],[8.02,5.73],[8.67,5.05],[8.88,4.48],[8.49,4.08],[7.9,4.02],[6.74,4.48],[5.81,5.16]]],
  [3.75,[[6.44,5.27],[6.63,5.56],[7.09,5.69],[7.56,5.5],[7.95,5.16],[7.95,4.82],[7.56,4.68],[7.09,4.76],[6.63,4.99]]]
];

const WIDTH = 1863;
const HEIGHT = 1845;
const PLOT_LEFT = 139;
const PLOT_RIGHT = 1670.5;
const PLOT_H = 484;

const color = d3.scaleThreshold().domain(levels).range(bandColors);
const x = d3.scaleLinear().domain([-15, 45]).range([PLOT_LEFT, PLOT_RIGHT]);

const svg = d3.select("#chart").append("svg")
    .attr("width", WIDTH)
    .attr("height", HEIGHT)
    .style("display", "block");

svg.append("rect").attr("width", WIDTH).attr("height", HEIGHT).attr("fill", "#003366");
svg.append("rect").attr("x", 21).attr("y", 35).attr("width", 1832).attr("height", 1810).attr("fill", "#fff");

function styleAxis(g) {
    g.select(".domain").remove();
    g.selectAll("line").attr("stroke", "#555").attr("stroke-width", 1.2);
    g.selectAll("text").style("font-size", "26px").attr("fill", "#000");
}

function drawPanel(title, bands, top, id) {
    const z = d3.scaleLinear().domain([0, 14]).range([top + PLOT_H, top]);
    const contour = d3.line()
        .x(d => x(d[0]))
        .y(d => z(d[1]))
        .curve(d3.curveCatmullRomClosed.alpha(0.5));

    svg.append("clipPath").attr("id", id)
        .append("rect")
        .attr("x", PLOT_LEFT).attr("y", top)
        .attr("width", PLOT_RIGHT - PLOT_LEFT).attr("height", PLOT_H);

    const g = svg.append("g").attr("clip-path", `url(#${id})`);
    g.append("rect")
        .attr("x", PLOT_LEFT).attr("y", top)
        .attr("width", PLOT_RIGHT - PLOT_LEFT).attr("height", PLOT_H)
        .attr("fill", color(-0.25));

    g.selectAll("path.band")
        .data(bands)
        .enter()
        .append("path")
            .attr("class", "band")
            .attr("d", d => contour(d[1]))
            .attr("fill", d => color(d[0]));

    // terrain with its white outline
    const terrain = terrainY.map((y, i) => [y, terrainZ[i]]);
    g.append("path")
        .attr("d", d3.area().x(d => x(d[0])).y0(z(0)).y1(d => z(d[1])).curve(d3.curveMonotoneX)(terrain))
        .attr("fill", "#8b4513");
    g.append("path")
        .attr("d", d3.line().x(d => x(d[0])).y(d => z(d[1])).curve(d3.curveMonotoneX)(terrain))
        .attr("fill", "none")
        .attr("stroke", "#fff")
        .attr("stroke-width", 1.6);

    // ticks
    svg.append("g").attr("transform", `translate(0,${top + PLOT_H})`)
        .call(d3.axisBottom(x).tickValues(yMinorTicks).tickSize(9).tickFormat(""))
        .call(styleAxis);
    svg.append("g").attr("transform", `translate(0,${top + PLOT_H})`)
        .call(d3.axisBottom(x).tickValues(yMajorTicks).tickSize(17).tickPadding(9).tickFormat(d => String(d)))
        .call(styleAxis);
    svg.append("g").attr("transform", `translate(${PLOT_LEFT},0)`)
        .call(d3.axisLeft(z).tickValues(zMinorTicks).tickSize(9).tickFormat(""))
        .call(styleAxis);
    svg.append("g").attr("transform", `translate(${PLOT_LEFT},0)`)
        .call(d3.axisLeft(z).tickValues(zMajorTicks).tickSize(17).tickPadding(9).tickFormat(d => String(d)))
        .call(styleAxis)
        .call(g => g.selectAll("text").attr("dy", "0.38em"));
    svg.append("g").attr("transform", `translate(${PLOT_RIGHT},0)`)
        .call(d3.axisRight(z).tickValues(zMinorTicks).tickSize(9).tickFormat(""))
        .call(styleAxis);
    svg.append("g").attr("transform", `translate(${PLOT_RIGHT},0)`)
        .call(d3.axisRight(z).tickValues(zMajorTicks).tickSize(17).tickFormat(""))
        .call(styleAxis);

    svg.append("rect")
        .attr("x", PLOT_LEFT).attr("y", top)
        .attr("width", PLOT_RIGHT - PLOT_LEFT).attr("height", PLOT_H)
        .attr("fill", "none")
        .attr("stroke", "#444")
        .attr("stroke-width", 1.6);

    svg.append("text")
        .attr("x", PLOT_LEFT)
        .attr("y", top - 10)
        .style("font-size", "33.9px")
        .style("font-weight", "bold")
        .text(title);

    svg.append("text")
        .attr("transform", `translate(67,${top + PLOT_H / 2}) rotate(-90)`)
        .attr("text-anchor", "middle")
        .style("font-size", "33px")
        .text("Z (km)");
}

drawPanel("a) Zonal mean vertical velocity of present", panelA, 90.5, "clip-a");
drawPanel("b) Zonal mean vertical velocity of mid-term future", panelB, 682, "clip-b");
drawPanel("c) Zonal mean vertical velocity of long-term future", panelC, 1273.5, "clip-c");

svg.append("text")
    .attr("x", x(15))
    .attr("y", 1837)
    .attr("text-anchor", "middle")
    .style("font-size", "33px")
    .text("Y (km)");

// colour bar
const cbY = d3.scaleLinear().domain([-5, 5]).range([1235, 668]);
const cbLeft = 1743;
const cbRight = 1772.5;
const cbMid = (cbLeft + cbRight) / 2;
const TIP = 29;
const cb = svg.append("g");

cb.selectAll("rect")
    .data(d3.pairs(levels))
    .enter()
    .append("rect")
        .attr("x", cbLeft)
        .attr("y", d => cbY(d[1]))
        .attr("width", cbRight - cbLeft)
        .attr("height", d => cbY(d[0]) - cbY(d[1]) + 0.5)
        .attr("fill", d => color((d[0] + d[1]) / 2));

const tri = d3.line();
cb.append("path")
    .attr("d", tri([[cbLeft, cbY(5)], [cbMid, cbY(5) - TIP], [cbRight, cbY(5)]]) + "Z")
    .attr("fill", bandColors[21]);
cb.append("path")
    .attr("d", tri([[cbLeft, cbY(-5)], [cbMid, cbY(-5) + TIP], [cbRight, cbY(-5)]]) + "Z")
    .attr("fill", bandColors[0]);
cb.append("path")
    .attr("d", tri([[cbLeft, cbY(5)], [cbMid, cbY(5) - TIP], [cbRight, cbY(5)], [cbRight, cbY(-5)], [cbMid, cbY(-5) + TIP], [cbLeft, cbY(-5)]]) + "Z")
    .attr("fill", "none")
    .attr("stroke", "#333")
    .attr("stroke-width", 1.2);

cb.selectAll("line")
    .data(colorbarTicks)
    .enter()
    .append("line")
        .attr("x1", cbRight - 9)
        .attr("x2", cbRight)
        .attr("y1", d => cbY(d))
        .attr("y2", d => cbY(d))
        .attr("stroke", "#333")
        .attr("stroke-width", 1.2);

cb.selectAll("text.tick")
    .data(colorbarTicks)
    .enter()
    .append("text")
        .attr("class", "tick")
        .attr("x", cbRight + 7)
        .attr("y", d => cbY(d))
        .attr("dy", "0.42em")
        .style("font-size", "22px")
        .text(d => d3.format(".1f")(d));

svg.append("text")
    .attr("x", cbMid)
    .attr("y", 623)
    .attr("text-anchor", "middle")
    .style("font-size", "30px")
    .style("font-weight", "bold")
    .text("m/s");
</script>
</body>
</html>
